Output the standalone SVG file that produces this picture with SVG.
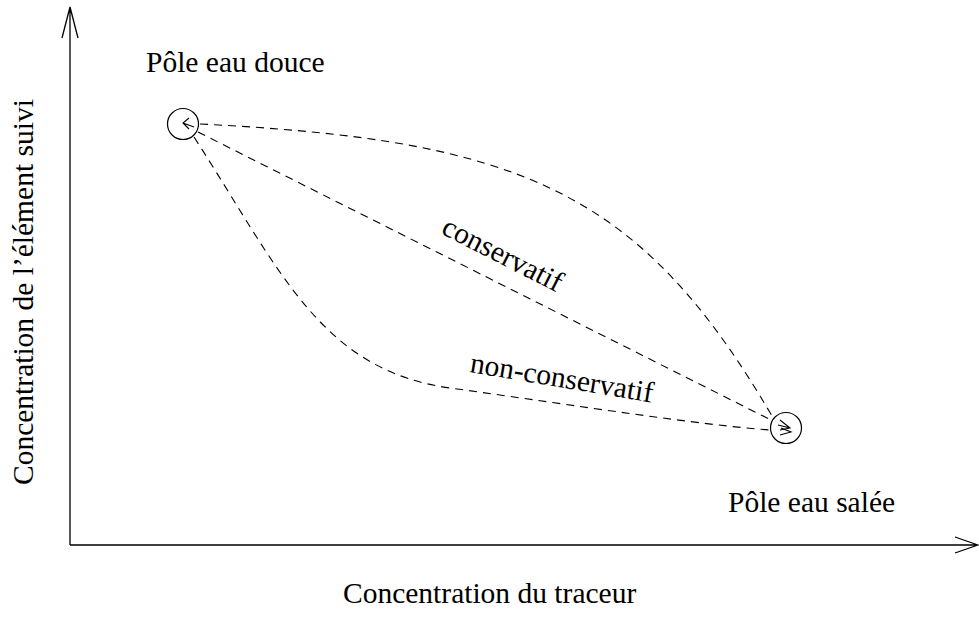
<svg xmlns="http://www.w3.org/2000/svg" width="979" height="622" viewBox="0 0 979 622">
<style>
.t{font-family:"Liberation Serif","Times New Roman",serif;font-size:29.5px;fill:#000}
.ax{fill:none;stroke:#000;stroke-width:1.3}
.d{fill:none;stroke:#000;stroke-width:1.1;stroke-dasharray:8 6}
.ah{fill:none;stroke:#000;stroke-width:1.1}
.c{fill:none;stroke:#000;stroke-width:1.2}
</style>
<rect width="979" height="622" fill="#fff"/>
<g id="axes">
<path class="ax" d="M70,545 V7 M62,38 L70,7 L78,38"/>
<path class="ax" d="M70,545 H977 M955,537 L978,545 L955,553"/>
<text class="t" x="343" y="603">Concentration du traceur</text>
<text class="t" transform="translate(33,485) rotate(-90)">Concentration de l’élément suivi</text>
</g>
<g id="pole-douce">
<circle class="c" cx="183" cy="124" r="15.5"/>
<text class="t" x="146" y="72">Pôle eau douce</text>
</g>
<g id="pole-salee">
<circle class="c" cx="786" cy="428" r="15.5"/>
<text class="t" x="728" y="512">Pôle eau salée</text>
</g>
<g id="connectors">
<path class="d" d="M200,124 C520,140 640,190 772,416"/>
<path class="d" d="M198,132 L771,420"/>
<path class="d" d="M194,137 C280,270 320,370 450,388 S700,425 770,430"/>
<path class="ah" d="M189,118 L183,123 L189,129 M183,123 L194,127"/>
<path class="ah" d="M780,420 L790,428 L780,430 M778,425 L790,428"/>
<path class="ah" d="M781,428 L791,432 L780,435"/>
</g>
<g id="labels">
<text class="t" transform="translate(440,233) rotate(27)">conservatif</text>
<text class="t" transform="translate(469,372) rotate(9.5)">non-conservatif</text>
</g>
</svg>
